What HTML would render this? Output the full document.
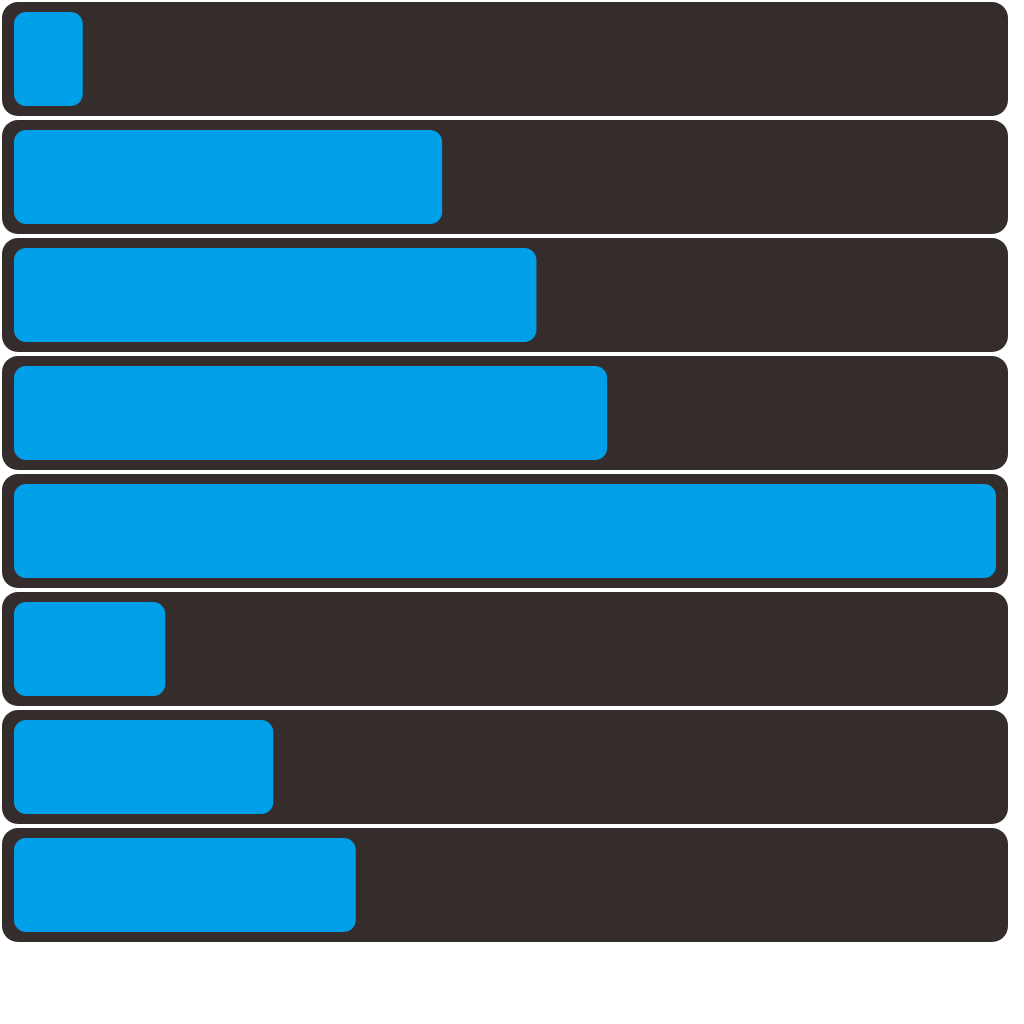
<!DOCTYPE html>
<html><head><meta charset="utf-8"><style>
html,body{margin:0;padding:0;background:#fff;width:1024px;height:1024px;overflow:hidden}
</style></head><body>
<svg id="chart" width="1024" height="1024" xmlns="http://www.w3.org/2000/svg"></svg>
<script>
const categories = ["row-1","row-2","row-3","row-4","row-5","row-6","row-7","row-8"];
const values = [7, 43.6, 53.2, 60.4, 100, 15.4, 26.4, 34.8];
const maxValue = 100;

const svg = document.getElementById('chart');
const NS = 'http://www.w3.org/2000/svg';
const x0 = 14, x1 = 996;
const xScale = v => x0 + (x1 - x0) * v / maxValue;
const rowY = i => 2 + i * 118;

categories.forEach((c, i) => {
  const y = rowY(i);
  const bg = document.createElementNS(NS, 'rect');
  bg.setAttribute('x', 2); bg.setAttribute('y', y);
  bg.setAttribute('width', 1006); bg.setAttribute('height', 114);
  bg.setAttribute('rx', 16); bg.setAttribute('fill', '#352d2b');
  
  
  svg.appendChild(bg);

  const bar = document.createElementNS(NS, 'rect');
  bar.setAttribute('x', x0); bar.setAttribute('y', y + 10);
  bar.setAttribute('width', Math.max(0, xScale(values[i]) - x0));
  bar.setAttribute('height', 94);
  bar.setAttribute('rx', 12); bar.setAttribute('fill', '#00a0e9');
  
  
  svg.appendChild(bar);
});
</script>
</body></html>
